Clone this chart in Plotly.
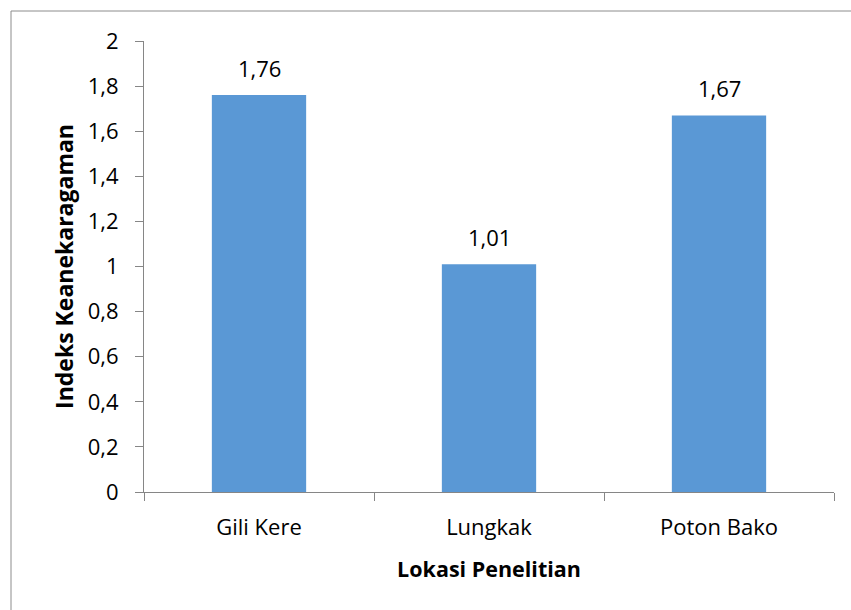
import plotly.graph_objects as go

categories = ["Gili Kere", "Lungkak", "Poton Bako"]
values = [1.76, 1.01, 1.67]
value_labels = ["1,76", "1,01", "1,67"]
y_ticks = [0, 0.2, 0.4, 0.6, 0.8, 1, 1.2, 1.4, 1.6, 1.8, 2]
y_tick_labels = ["0", "0,2", "0,4", "0,6", "0,8", "1", "1,2", "1,4", "1,6", "1,8", "2"]

FONT = "Open Sans"
AXIS_COLOR = "#868686"

W, H = 851, 610
L, R, T, B = 144, 17, 41, 118
pw, ph = W - L - R, H - T - B

fig = go.Figure()
fig.add_trace(go.Bar(
    x=categories, y=values,
    marker=dict(color="#5a98d5", line=dict(width=0)),
    width=0.41,
    hoverinfo="x+y",
))

for c, v, t in zip(categories, values, value_labels):
    fig.add_annotation(x=c, y=v, text=t, showarrow=False, yanchor="bottom",
                       yshift=10, font=dict(family=FONT, size=22, color="#000"))

# outer chart border (only top/left visible in frame)
fig.add_shape(type="rect", xref="paper", yref="paper",
              x0=(11 - L) / pw, x1=(W + 20 - L) / pw,
              y0=-(H + 20 - T - ph) / ph, y1=1 + (T - 11) / ph,
              line=dict(color="#8c8c8c", width=1), layer="below")

fig.update_layout(
    width=W, height=H,
    margin=dict(l=L, r=R, t=T, b=B, pad=0),
    paper_bgcolor="white", plot_bgcolor="white",
    showlegend=False,
    font=dict(family=FONT, color="#000"),
    xaxis=dict(
        showline=True, linecolor=AXIS_COLOR, linewidth=1,
        ticks="outside", tickson="boundaries", ticklen=8, tickcolor=AXIS_COLOR,
        ticklabelstandoff=16,
        tickfont=dict(family=FONT, size=22, color="#000"),
        title=dict(text="<b>Lokasi Penelitian</b>", font=dict(family=FONT, size=21.5, color="#000"), standoff=21),
        showgrid=False, zeroline=False,
    ),
    yaxis=dict(
        range=[0, 2], tickvals=y_ticks, ticktext=y_tick_labels,
        showline=True, linecolor=AXIS_COLOR, linewidth=1,
        ticks="outside", ticklen=8, tickcolor=AXIS_COLOR,
        ticklabelstandoff=12,
        tickfont=dict(family=FONT, size=22, color="#000"),
        title=dict(text="<b>Indeks Keanekaragaman</b>", font=dict(family=FONT, size=23, color="#000"), standoff=7),
        showgrid=False, zeroline=False,
    ),
)

fig.write_html("out.html")
